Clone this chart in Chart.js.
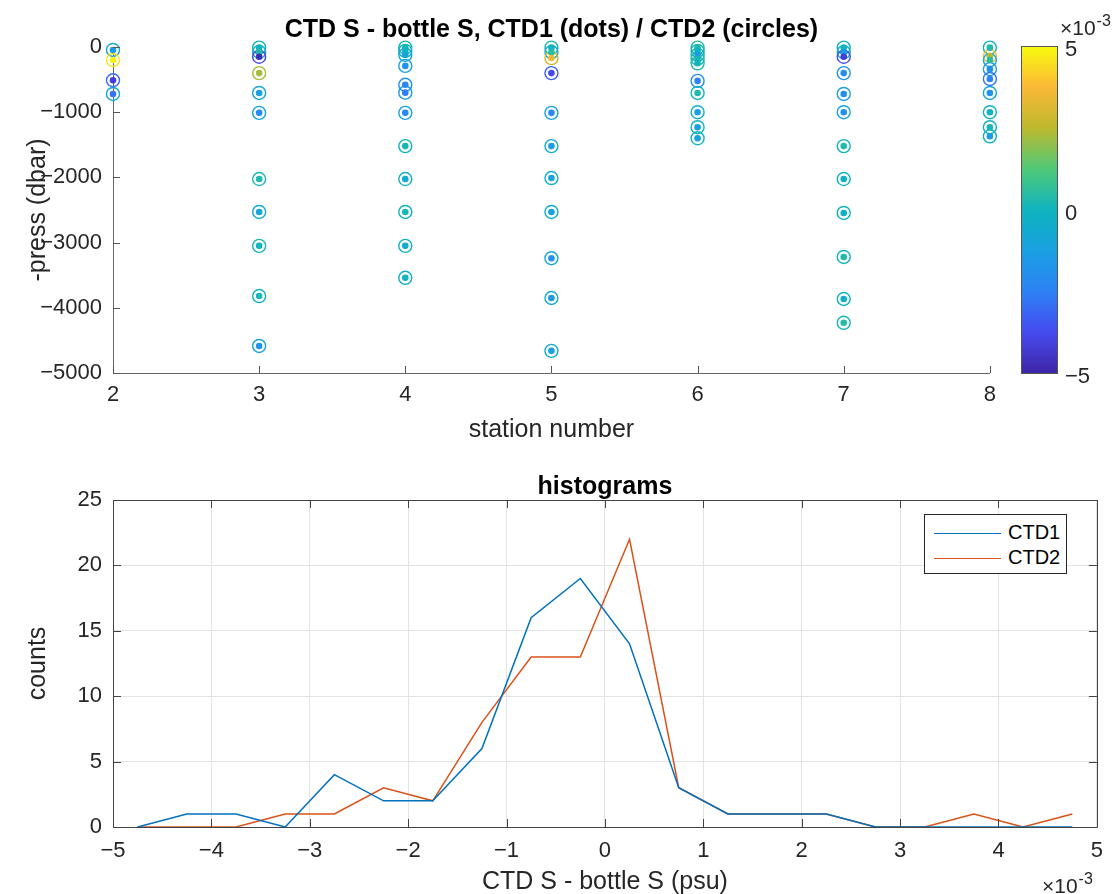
<!DOCTYPE html>
<html>
<head>
<meta charset="utf-8">
<script src="https://cdn.jsdelivr.net/npm/chart.js@4.4.1/dist/chart.umd.min.js"></script>
<style>
  body { margin: 0; background: #fff; font-family: "Liberation Sans", Arial, sans-serif; }
  #wrap { position: relative; width: 1114px; height: 894px; overflow: hidden; }
  canvas { position: absolute; }
  #legend { position: absolute; left: 924px; top: 514px; width: 143px; height: 60px;
            border: 1px solid #262626; background: #fff; box-sizing: border-box; padding-top: 5px; }
  #legend .row { height: 25px; line-height: 25px; font-size: 20px; color: #000; white-space: nowrap; }
  #legend .ln { display: inline-block; width: 67px; margin: 0 7px 0 9px; vertical-align: middle; border-top: 1.5px solid; }
</style>
</head>
<body>
<div id="wrap">
  <canvas id="top" width="1005" height="450" style="left:0;top:0"></canvas>
  <canvas id="cbar" width="114" height="450" style="left:1000px;top:0"></canvas>
  <canvas id="hist" width="1114" height="444" style="left:0;top:450px"></canvas>
  <div id="legend"></div>
</div>
<script>
// bottle samples: station, pressure (dbar), CTD S - bottle S (x 1e-3 psu)
const stn = [
  2, 2, 2, 2,
  3, 3, 3, 3, 3, 3, 3, 3, 3, 3, 3,
  4, 4, 4, 4, 4, 4, 4, 4, 4, 4, 4, 4,
  5, 5, 5, 5, 5, 5, 5, 5, 5, 5, 5,
  6, 6, 6, 6, 6, 6, 6, 6, 6, 6,
  7, 7, 7, 7, 7, 7, 7, 7, 7, 7, 7, 7,
  8, 8, 8, 8, 8, 8, 8, 8, 8
];
const press = [
  45, 200, 510, 720,
  10, 75, 150, 400, 705, 1010, 2025, 2530, 3050, 3820, 4585,
  10, 60, 120, 290, 580, 700, 1010, 1520, 2025, 2530, 3050, 3540,
  10, 80, 170, 400, 1010, 1520, 2010, 2530, 3240, 3850, 4660,
  10, 60, 120, 180, 250, 520, 705, 1000, 1230, 1400,
  10, 80, 150, 400, 720, 1000, 1520, 2025, 2545, 3220, 3865, 4230,
  10, 140, 200, 340, 490, 705, 1000, 1230, 1370
];
const dS1 = [
  -1.5, 4.8, -4.2, -2.8,
  0.0, 0.3, -4.8, 2.2, -1.2, -2.2, 0.3, -1.0, 0.0, 0.2, -1.8,
  0.2, 0.0, -1.0, -1.8, -2.2, -2.6, -2.2, 0.2, -0.6, 0.2, -0.5, 0.0,
  0.0, 0.5, 3.5, -3.8, -2.2, -1.3, -1.0, -1.0, -1.8, -1.4, -1.2,
  0.3, 0.0, -1.5, 0.2, 0.0, -2.4, 0.3, -1.2, -1.3, -1.2,
  0.0, -1.5, -4.2, -2.0, -2.0, -2.0, 0.3, -0.2, -0.3, 0.3, -0.3, 0.4,
  0.3, 2.5, 0.5, -1.8, -2.5, -1.8, 0.0, 0.2, -1.5
];
const dS2 = [
  -0.8, 4.5, -3.0, -0.8,
  0.0, -0.5, -4.0, 2.3, -0.8, -1.2, 0.2, -0.6, 0.2, 0.0, -0.8,
  0.2, 0.0, -0.8, -1.0, -1.8, -1.4, -1.0, 0.0, -0.2, 0.0, 0.0, -0.3,
  0.3, -0.5, 2.8, -3.2, -1.0, -0.5, -0.5, -0.5, -0.7, -0.5, -0.5,
  0.5, 0.2, 0.0, 0.3, 0.3, -2.0, 0.0, -0.2, -0.2, 0.0,
  0.0, 0.0, -3.8, -1.8, -1.2, -1.0, 0.0, 0.0, 0.0, 0.0, 0.0, 0.2,
  0.0, 3.8, -1.0, -1.5, -2.8, -0.8, 0.0, -0.2, 0.0
];

// histograms
const binCenters = [-4.75, -4.25, -3.75, -3.25, -2.75, -2.25, -1.75, -1.25, -0.75, -0.25,
                    0.25, 0.75, 1.25, 1.75, 2.25, 2.75, 3.25, 3.75, 4.25, 4.75];
const countsCTD1 = [0, 1, 1, 0, 4, 2, 2, 6, 16, 19, 14, 3, 1, 1, 1, 0, 0, 0, 0, 0];
const countsCTD2 = [0, 0, 0, 1, 1, 3, 2, 8, 13, 13, 22, 3, 1, 1, 1, 0, 0, 1, 0, 1];
const seriesNames = ['CTD1', 'CTD2'];
const seriesColors = ['#0072BD', '#D95319'];

const FONT = '"Liberation Sans", Arial, sans-serif';
const INK = '#262626';
Chart.defaults.font.family = FONT;
Chart.defaults.color = INK;
Chart.defaults.animation = false;

const parulaStops = [
  [62, 38, 168], [70, 75, 240], [45, 130, 245], [25, 160, 225],
  [15, 180, 190], [80, 200, 120], [190, 185, 45], [250, 185, 55], [249, 251, 14]
];
function parula(v, lo, hi) {
  let t = (v - lo) / (hi - lo);
  t = Math.max(0, Math.min(1, t)) * (parulaStops.length - 1);
  const i = Math.min(Math.floor(t), parulaStops.length - 2);
  const f = t - i, a = parulaStops[i], b = parulaStops[i + 1];
  return 'rgb(' + a.map((c, k) => Math.round(c + (b[k] - c) * f)).join(',') + ')';
}
const minus = v => String(v).replace('-', '\u2212');

// inward tick marks and optional box, MATLAB style
const frame = {
  id: 'frame',
  afterDatasetsDraw(chart, args, o) {
    const { ctx, chartArea: a } = chart;
    ctx.save();
    ctx.strokeStyle = o.color;
    ctx.lineWidth = 1;
    ctx.beginPath();
    const xs = chart.scales.x, ys = chart.scales.y;
    xs.ticks.forEach((t, i) => {
      const p = Math.round(xs.getPixelForTick(i)) + 0.5;
      ctx.moveTo(p, a.bottom); ctx.lineTo(p, a.bottom - o.len);
      if (o.box) { ctx.moveTo(p, a.top); ctx.lineTo(p, a.top + o.len); }
    });
    ys.ticks.forEach((t, i) => {
      const p = Math.round(ys.getPixelForTick(i)) + 0.5;
      ctx.moveTo(a.left, p); ctx.lineTo(a.left + o.len, p);
      if (o.box) { ctx.moveTo(a.right, p); ctx.lineTo(a.right - o.len, p); }
    });
    if (o.box) ctx.rect(Math.round(a.left) + 0.5, Math.round(a.top) + 0.5,
                        Math.round(a.right - a.left), Math.round(a.bottom - a.top));
    ctx.stroke();
    ctx.restore();
  }
};

// "x10^-3" exponent label
const expo = {
  id: 'expo',
  afterDraw(chart, args, o) {
    const ctx = chart.ctx;
    ctx.save();
    ctx.fillStyle = INK;
    ctx.textBaseline = 'alphabetic';
    ctx.font = '21px ' + FONT;
    ctx.fillText('\u00d710', o.x, o.y);
    const w = ctx.measureText('\u00d710').width;
    ctx.font = '16px ' + FONT;
    ctx.fillText('-3', o.x + w + 1, o.y - 9);
    ctx.restore();
  }
};

// ---------- top: scatter of differences ----------
const pts = stn.map((s, i) => ({ x: s, y: -press[i] }));
new Chart(document.getElementById('top'), {
  type: 'scatter',
  data: {
    datasets: [
      { label: 'CTD1', data: pts, pointRadius: 3.3, pointBorderWidth: 0,
        pointBackgroundColor: dS1.map(v => parula(v, -5, 5)), clip: false },
      { label: 'CTD2', data: pts, pointRadius: 6.5, pointBorderWidth: 1.4,
        pointBackgroundColor: 'rgba(0,0,0,0)',
        pointBorderColor: dS2.map(v => parula(v, -5, 5)), clip: false }
    ]
  },
  options: {
    responsive: false,
    layout: { padding: { left: 23, right: 12, top: 15, bottom: 0 } },
    plugins: {
      legend: { display: false },
      tooltip: { enabled: false },
      title: { display: true, fullSize: false, text: 'CTD S - bottle S, CTD1 (dots) / CTD2 (circles)',
               color: '#000', font: { size: 25, weight: 'bold' }, padding: { top: 0, bottom: 2 } },
      frame: { color: '#555', len: 7, box: false }
    },
    scales: {
      x: { type: 'linear', min: 2, max: 8,
           ticks: { stepSize: 1, font: { size: 22 }, padding: 9, maxRotation: 0 },
           grid: { display: false, drawTicks: false },
           border: { color: '#666', width: 1 },
           title: { display: true, text: 'station number', font: { size: 25 }, padding: { top: 0, bottom: 5 } },
           afterFit: s => { s.height = 77; } },
      y: { min: -5000, max: 0,
           ticks: { stepSize: 1000, font: { size: 22 }, padding: 11, callback: minus },
           grid: { display: false, drawTicks: false },
           border: { color: '#666', width: 1 },
           title: { display: true, text: '-press (dbar)', font: { size: 25 }, padding: { top: 0, bottom: 0 } },
           afterFit: s => { s.width = 90; } }
    }
  },
  plugins: [frame]
});

// ---------- colorbar ----------
const cbarPlugin = {
  id: 'cbarFill',
  beforeDatasetsDraw(chart) {
    const { ctx, chartArea: a } = chart;
    const g = ctx.createLinearGradient(0, a.bottom, 0, a.top);
    parulaStops.forEach((c, i) => g.addColorStop(i / (parulaStops.length - 1), 'rgb(' + c.join(',') + ')'));
    ctx.save();
    ctx.fillStyle = g;
    ctx.fillRect(a.left, a.top, a.right - a.left, a.bottom - a.top);
    ctx.strokeStyle = '#555';
    ctx.lineWidth = 1;
    ctx.strokeRect(Math.round(a.left) + 0.5, Math.round(a.top) + 0.5,
                   Math.round(a.right - a.left), Math.round(a.bottom - a.top));
    ctx.restore();
  }
};
new Chart(document.getElementById('cbar'), {
  type: 'scatter',
  data: { datasets: [] },
  options: {
    responsive: false,
    layout: { padding: { left: 21, right: 0, top: 46, bottom: 77 } },
    plugins: { legend: { display: false }, tooltip: { enabled: false },
               expo: { x: 60, y: 35 } },
    scales: {
      x: { display: false, min: 0, max: 1 },
      y: { position: 'right', min: -5, max: 5,
           ticks: { stepSize: 5, font: { size: 22 }, padding: 8, labelOffset: 4, callback: minus },
           grid: { display: false, drawTicks: false },
           border: { display: false },
           afterFit: s => { s.width = 57; } }
    }
  },
  plugins: [cbarPlugin, expo]
});

// ---------- bottom: histograms ----------
const series = [countsCTD1, countsCTD2];
new Chart(document.getElementById('hist'), {
  type: 'line',
  data: {
    datasets: series.map((c, k) => ({
      label: seriesNames[k],
      data: binCenters.map((x, i) => ({ x: x, y: c[i] })),
      borderColor: seriesColors[k], borderWidth: 1.5,
      pointRadius: 0, tension: 0, fill: false
    }))
  },
  options: {
    responsive: false,
    layout: { padding: { left: 23, right: 14, top: 22, bottom: 0 } },
    plugins: {
      legend: { display: false },
      tooltip: { enabled: false },
      title: { display: true, fullSize: false, text: 'histograms', color: '#000',
               font: { size: 25, weight: 'bold' }, padding: { top: 0, bottom: -2 } },
      frame: { color: '#444', len: 8, box: true },
      expo: { x: 1042, y: 443 }
    },
    scales: {
      x: { type: 'linear', min: -5, max: 5,
           ticks: { stepSize: 1, font: { size: 22 }, padding: 11, maxRotation: 0, callback: minus },
           grid: { color: '#e3e3e3', drawTicks: false },
           border: { color: '#444', width: 1 },
           title: { display: true, text: 'CTD S - bottle S (psu)', font: { size: 25 }, padding: { top: 0, bottom: -3 } },
           afterFit: s => { s.height = 67; } },
      y: { min: 0, max: 25,
           ticks: { stepSize: 5, font: { size: 22 }, padding: 11 },
           grid: { color: '#e3e3e3', drawTicks: false },
           border: { color: '#444', width: 1 },
           title: { display: true, text: 'counts', font: { size: 25 }, padding: { top: 0, bottom: 0 } },
           afterFit: s => { s.width = 90; } }
    }
  },
  plugins: [frame, expo]
});

// legend (MATLAB-style box inside the axes)
document.getElementById('legend').innerHTML = seriesNames.map((n, k) =>
  '<div class="row"><span class="ln" style="border-color:' + seriesColors[k] + '"></span>' + n + '</div>').join('');
</script>
</body>
</html>
